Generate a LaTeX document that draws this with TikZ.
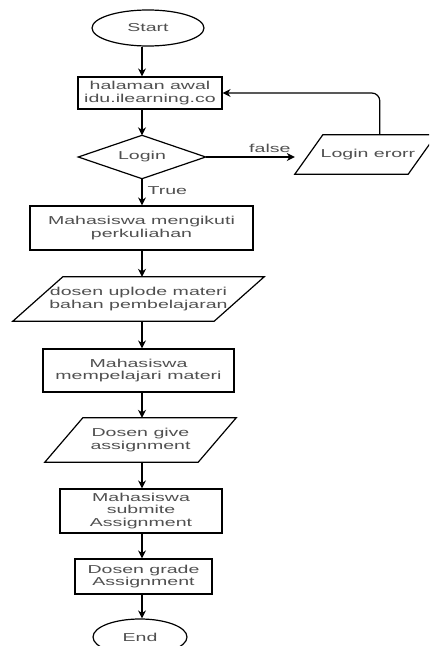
\documentclass[tikz,border=0pt]{standalone}
\usepackage{fontspec}
\setmainfont{Liberation Sans}[FakeStretch=1.7]
\usetikzlibrary{arrows.meta,calc,shapes.geometric}
\definecolor{txt}{HTML}{505050}
\begin{document}
\begin{tikzpicture}[x=1pt,y=-1pt,
  every node/.style={font=\fontsize{11.5}{12.7}\selectfont, text=txt, align=center, inner sep=0pt},
  shp/.style={line width=1.2pt, draw=black},
  boxn/.style={shp, rectangle, minimum width=#1},
  ghost/.style={rectangle},
  arr/.style={line width=1.2pt, -{Stealth[length=8pt,width=8pt]}}]
\clip (0,0) rectangle (429,646);
\fill[white] (0,0) rectangle (429,646);
\coordinate (axis) at (142,0);
% nodes
\node[shp, ellipse, minimum width=112pt, minimum height=36pt] (start) at (148,28) {Start};
\node[boxn=144pt, minimum height=32pt] (b1) at (150,93) {halaman awal\\idu.ilearning.co};
\node[ghost, minimum width=127pt, minimum height=43pt] (login) at (142,157) {Login};
\draw[shp] (login.north) -- (login.east) -- (login.south) -- (login.west) -- cycle;
\node[ghost, minimum width=141pt, minimum height=39pt] (err) at (365.5,154.5) {};
\draw[shp] ([xshift=28pt]err.north west) -- (err.north east) -- ([xshift=-28pt]err.south east) -- (err.south west) -- cycle;
\node (errt) at (368,155) {Login erorr};
\node[boxn=223pt, minimum height=44pt] (b2) at (141.5,228) {Mahasiswa mengikuti\\perkuliahan};
\node[ghost, minimum width=251pt, minimum height=44pt] (p2) at (138.5,299) {dosen uplode materi\\bahan pembelajaran};
\draw[shp] ([xshift=50pt]p2.north west) -- (p2.north east) -- ([xshift=-50pt]p2.south east) -- (p2.south west) -- cycle;
\node[boxn=191pt, minimum height=43pt] (b3) at (138.5,370.5) {Mahasiswa\\mempelajari materi};
\node[ghost, minimum width=191pt, minimum height=44pt] (p3) at (140.5,440) {Dosen give\\assignment};
\draw[shp] ([xshift=38pt]p3.north west) -- (p3.north east) -- ([xshift=-38pt]p3.south east) -- (p3.south west) -- cycle;
\node[boxn=162pt, minimum height=44pt] (b4) at (141,511) {Mahasiswa\\submite\\Assignment};
\node[boxn=137pt, minimum height=35pt] (b5) at (143.5,576.5) {Dosen grade\\Assignment};
\node[shp, ellipse, minimum width=94pt, minimum height=36pt] (end) at (140,637) {End};
% connectors
\draw[arr] (start.south -| axis) -- (b1.north -| axis);
\draw[arr] (b1.south -| axis) -- (login.north -| axis);
\draw[arr] (login.east) -- node[above=4pt, pos=0.72] (lf) {false} (err.west |- login.east) ;
\draw[arr] (login.south -| axis) -- node[right=5pt, pos=0.45] (lt) {True} (b2.north -| axis);
\draw[arr] (b2.south -| axis) -- (p2.north -| axis);
\draw[arr] (p2.south -| axis) -- (b3.north -| axis);
\draw[arr] (b3.south -| axis) -- (p3.north -| axis);
\draw[arr] (p3.south -| axis) -- (b4.north -| axis);
\draw[arr] (b4.south -| axis) -- (b5.north -| axis);
\draw[arr] (b5.south -| axis) -- (end.north -| axis);
\coordinate (loopstart) at ([xshift=85pt]err.north west);
\draw[arr, rounded corners=8pt] (loopstart) |- (b1.east);
\end{tikzpicture}
\end{document}
